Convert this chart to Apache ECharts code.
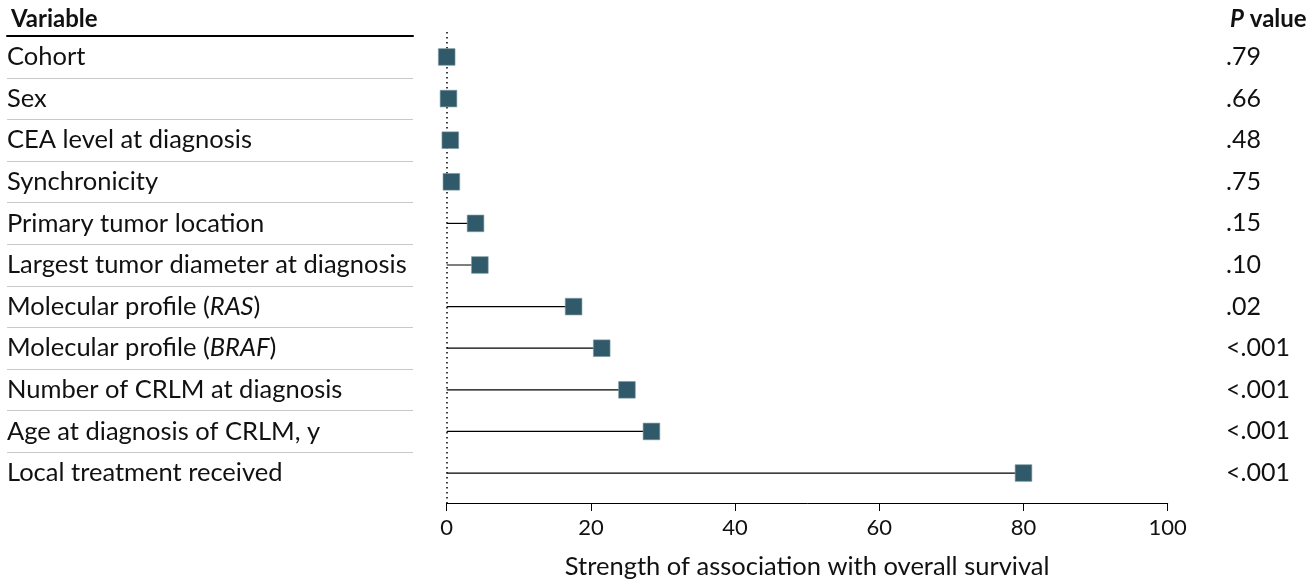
<!DOCTYPE html>
<html>
<head>
<meta charset="utf-8">
<script src="https://cdn.jsdelivr.net/npm/echarts@6/dist/echarts.min.js"></script>
<style>
html,body{margin:0;padding:0;background:#fff;}
#chart{width:1309px;height:585px;}
</style>
</head>
<body>
<div id="chart"></div>
<script>
const variables = [
  'Cohort',
  'Sex',
  'CEA level at diagnosis',
  'Synchronicity',
  'Primary tumor location',
  'Largest tumor diameter at diagnosis',
  'Molecular profile (RAS)',
  'Molecular profile (BRAF)',
  'Number of CRLM at diagnosis',
  'Age at diagnosis of CRLM, y',
  'Local treatment received'
];
const strengths = [0, 0.25, 0.5, 0.65, 4.0, 4.6, 17.6, 21.5, 25.0, 28.4, 80.0];
const pValues = ['.79', '.66', '.48', '.75', '.15', '.10', '.02', '<.001', '<.001', '<.001', '<.001'];
const xTicks = [0, 20, 40, 60, 80, 100];

const FONT = 'Lato';
const points = strengths.map((v, i) => [v, i]);
const sepColors = ['rgba(0,0,0,0)'];
for (let i = 0; i < variables.length - 1; i++) sepColors.push('#c9c9c9');
sepColors.push('rgba(0,0,0,0)');

const rowTop = 36.2, rowH = 457.6;
const chart = echarts.init(document.getElementById('chart'));
chart.setOption({
  animation: false,
  textStyle: { fontFamily: FONT, color: '#111' },
  title: [
    { text: 'Variable', left: 6, top: 2, textStyle: { fontFamily: FONT, fontSize: 24, fontWeight: 'bold', color: '#111' } },
    { text: '{i|P} value', left: 1225, top: 2,
      textStyle: { fontFamily: FONT, fontSize: 24, fontWeight: 'bold', color: '#111',
        rich: { i: { fontFamily: FONT, fontSize: 24, fontWeight: 'bold', fontStyle: 'italic', color: '#111' } } } }
  ],
  grid: [
    { left: 7, width: 406, top: rowTop, height: rowH },
    { left: 446.7, right: 141.3, top: 32, bottom: 81.7 },
    { left: 1226, width: 80, top: rowTop, height: rowH }
  ],
  xAxis: [
    { gridIndex: 0, type: 'value', min: 0, max: 1, position: 'top',
      axisLine: { show: true, lineStyle: { color: '#000', width: 2 } },
      axisTick: { show: false }, axisLabel: { show: false }, splitLine: { show: false } },
    { gridIndex: 1, type: 'value', min: 0, max: 100, interval: 20,
      axisLine: { show: true, onZero: false, lineStyle: { color: '#000', width: 1 } },
      axisTick: { show: true, length: 8, lineStyle: { color: '#000', width: 1 } },
      axisLabel: { fontFamily: FONT, fontSize: 22, color: '#111', margin: 14,
        formatter: v => xTicks.includes(v) ? String(v) : '' },
      splitLine: { show: false },
      name: 'Strength of association with overall survival', nameLocation: 'middle', nameGap: 51,
      nameTextStyle: { fontFamily: FONT, fontSize: 25.5, color: '#111' } },
    { gridIndex: 2, type: 'value', min: 0, max: 1, show: false }
  ],
  yAxis: [
    { gridIndex: 0, type: 'category', inverse: true, data: variables,
      axisLine: { show: false }, axisTick: { show: false },
      axisLabel: { inside: true, margin: 0, interval: 0, fontFamily: FONT, fontSize: 25.5, color: '#111',
        formatter: s => s.replace(/\((RAS|BRAF)\)/, '({i|$1})'),
        rich: { i: { fontFamily: FONT, fontSize: 25.5, fontStyle: 'italic', color: '#111' } } },
      splitLine: { show: true, interval: 0, lineStyle: { color: sepColors, width: 1 } } },
    { gridIndex: 1, type: 'value', inverse: true, min: -0.6, max: 10.72, show: false },
    { gridIndex: 2, type: 'category', inverse: true, data: pValues,
      axisLine: { show: false }, axisTick: { show: false }, splitLine: { show: false },
      axisLabel: { inside: true, margin: 0, interval: 0, fontFamily: FONT, fontSize: 25, color: '#111' } }
  ],
  series: [
    { type: 'custom', xAxisIndex: 1, yAxisIndex: 1, data: points, silent: true,
      renderItem: (params, api) => {
        const a = api.coord([0, api.value(1)]);
        const b = api.coord([api.value(0), api.value(1)]);
        return { type: 'line', shape: { x1: a[0], y1: a[1], x2: b[0], y2: b[1] },
          style: { stroke: '#000', lineWidth: 1.2 } };
      },
      markLine: { silent: true, symbol: ['none', 'none'], label: { show: false },
        lineStyle: { type: [1.5, 3.5], color: '#000', width: 1.5 },
        data: [{ xAxis: 0 }] }
    },
    { type: 'scatter', xAxisIndex: 1, yAxisIndex: 1, data: points, symbol: 'rect', symbolSize: 16.7,
      itemStyle: { color: '#30596a', opacity: 1, borderColor: '#7f9ca5', borderWidth: 0.6 }, z: 5 }
  ]
});
</script>
</body>
</html>
